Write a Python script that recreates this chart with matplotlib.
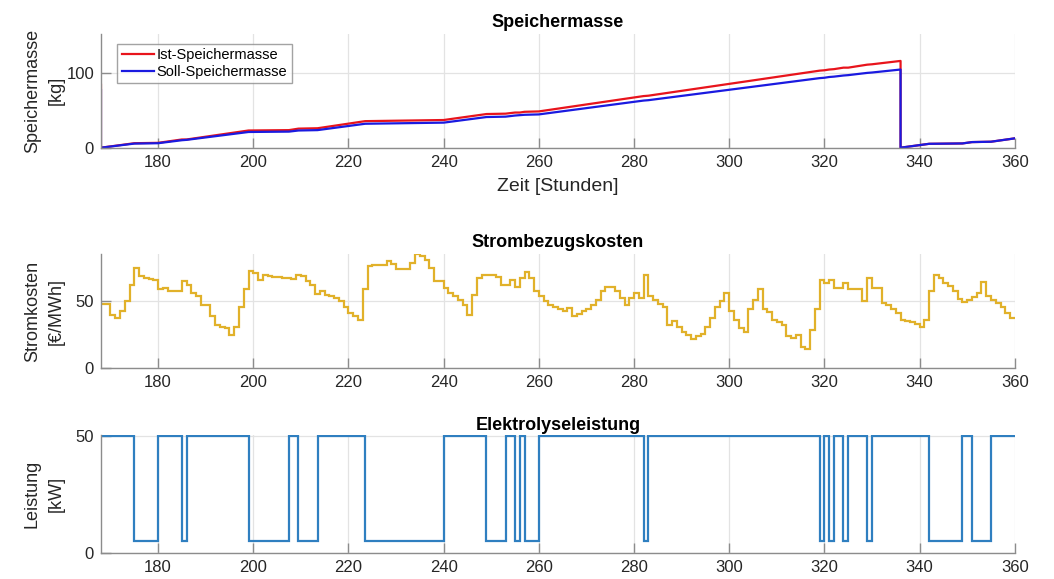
import numpy as np
import matplotlib
matplotlib.use("Agg")
import matplotlib.pyplot as plt

plt.rcParams['font.family'] = ['Liberation Sans', 'DejaVu Sans']

# Speichermasse [kg] - Stuetzpunkte (Stunde, Wert)
ist_h = [168, 168, 175, 180, 185, 186, 199, 207.5, 209.5, 213.5, 223.5, 240, 249, 253, 255, 256,
         257, 260, 282, 283, 319, 320, 321, 322, 324, 325, 329, 330, 336, 336, 342, 349, 351, 355, 360]
ist_kg = [84, 0, 6, 6.5, 11, 11, 23, 23.5, 25.5, 26, 35.5, 37, 45, 45.5, 47, 47,
          48, 48.5, 69, 69.5, 103, 103.5, 104.5, 105, 107, 107, 111, 111.5, 116, 0, 5.2, 5.7, 7.5, 8, 12.5]
soll_h = ist_h
soll_kg = [77, 0, 5.5, 6, 10, 10.5, 21, 21.5, 23, 23.5, 32, 33.5, 41, 41.5, 43, 43.5,
           44, 44.5, 63, 63.5, 93, 93.5, 94.5, 95, 96.5, 97, 100, 100.5, 104.5, 0, 5.2, 5.7, 7.5, 8, 12.5]

# Strompreis [EUR/MWh], stuendlich ab Stunde 168
preis = [48, 48, 40, 37.5, 42.5, 50, 62, 75, 69, 67.5, 67, 66, 59, 60, 57.5, 57.5, 58, 65, 62, 56,
         54, 47.5, 47, 39, 32.5, 31, 30, 25, 31, 46, 59.5, 72.5, 71, 66, 69.5, 69, 68, 68, 67.5,
         67.5, 66.8, 69.5, 69, 65.5, 62.5, 55.5, 58, 55, 54, 52.5, 50, 46, 41, 39, 36, 59, 76.5,
         77, 77, 77.5, 80, 78, 74.5, 74.5, 74.5, 79, 85.5, 84, 81, 75, 65.5, 65.5, 60, 56, 54, 51,
         47.5, 39.5, 55, 67.5, 69.5, 69.5, 69.5, 68, 62, 62, 66, 61, 67.5, 72, 67.5, 57.5, 54, 50,
         47.5, 45.5, 44, 42.5, 45, 39, 40.5, 42.5, 44, 47.5, 51, 57.5, 60.5, 60.5, 57.5, 52.5, 47.5,
         52.5, 56, 52.5, 70, 54, 51, 48, 46, 32.5, 35.5, 31, 27.5, 25, 22, 24.5, 25.5, 31, 37.5, 46,
         50, 56, 43, 36, 30, 27.5, 44, 51, 59, 44, 42, 36, 35, 32.5, 24, 22.5, 25, 16, 14.5, 29, 44,
         66, 63.5, 66, 60, 60, 64, 59, 59, 59, 50, 67.5, 60, 60, 49, 47.5, 44, 41, 36, 35.5, 35,
         33.5, 31, 36, 57.5, 69.5, 67.5, 64, 61.5, 58, 52, 49.5, 51, 53, 56, 64.5, 54, 51, 48.5, 46,
         41, 37.5]
preis_h = np.arange(168, 168 + len(preis) + 1)

# Elektrolyseleistung [kW]
leistung_h = [168, 175, 180, 185, 186, 199, 207.5, 209.5, 213.5, 223.5, 240, 249, 253, 255, 256, 257,
              260, 282, 283, 319, 320, 321, 322, 324, 325, 329, 330, 342, 349, 351, 355, 360]
leistung = [50, 5, 50, 5, 50, 5, 50, 5, 50, 5, 50, 5, 50, 5, 50, 5, 50, 5, 50, 5, 50, 5, 50, 5,
            50, 5, 50, 5, 50, 5, 50]

xticks = [180, 200, 220, 240, 260, 280, 300, 320, 340, 360]

fig = plt.figure(figsize=(10.54, 5.79), dpi=100)
ax1 = fig.add_axes([0.0958, 0.7449, 0.867, 0.1964])
ax2 = fig.add_axes([0.0958, 0.3639, 0.867, 0.1974])
ax3 = fig.add_axes([0.0958, 0.0454, 0.867, 0.2041])

for ax in (ax1, ax2, ax3):
    ax.set_xlim(168, 360)
    ax.set_xticks(xticks)
    ax.grid(True, color='#e3e3e3', linewidth=0.9)
    ax.set_axisbelow(True)
    for s in ('top', 'right'):
        ax.spines[s].set_visible(False)
    for s in ('left', 'bottom'):
        ax.spines[s].set_color('#8c8c8c')
        ax.spines[s].set_linewidth(1.0)
    ax.tick_params(direction='in', length=7, width=1.0, color='#8c8c8c',
                   labelsize=12, labelcolor='#262626', pad=5)

ylab = dict(fontsize=13, color='#262626', linespacing=1.5)

ax1.plot(ist_h, ist_kg, color='#e8141c', lw=1.6, label='Ist-Speichermasse')
ax1.plot(soll_h, soll_kg, color='#1a1ae0', lw=1.6, label='Soll-Speichermasse')
ax1.set_ylim(0, 152)
ax1.set_yticks([0, 100])
ax1.set_title('Speichermasse', fontsize=13, fontweight='bold', pad=5)
ax1.set_xlabel('Zeit [Stunden]', fontsize=14, color='#262626', labelpad=6)
ax1.set_ylabel('Speichermasse\n[kg]', **ylab)
leg = ax1.legend(loc='upper left', fontsize=10.5, frameon=True, fancybox=False,
                 handlelength=2.2, handletextpad=0.2, borderpad=0.3, labelspacing=0.2,
                 bbox_to_anchor=(0.01, 0.98))
leg.get_frame().set_edgecolor('#8c8c8c')
leg.get_frame().set_linewidth(1.0)

ax2.stairs(preis, preis_h, baseline=None, color='#e1b12a', lw=1.6)
ax2.set_ylim(0, max(preis))
ax2.set_yticks([0, 50])
ax2.set_title('Strombezugskosten', fontsize=13, fontweight='bold', pad=5)
ax2.set_ylabel('Stromkosten\n[€/MWh]', **ylab)

ax3.stairs(leistung, leistung_h, baseline=None, color='#2f7fc0', lw=1.6)
ax3.set_ylim(0, 50.5)
ax3.set_yticks([0, 50])
ax3.set_title('Elektrolyseleistung', fontsize=13, fontweight='bold', pad=3)
ax3.set_ylabel('Leistung\n[kW]', **ylab)

for ax in (ax1, ax2, ax3):
    ax.yaxis.set_label_coords(-0.04, 0.5)

fig.savefig('out.png', dpi=100)
